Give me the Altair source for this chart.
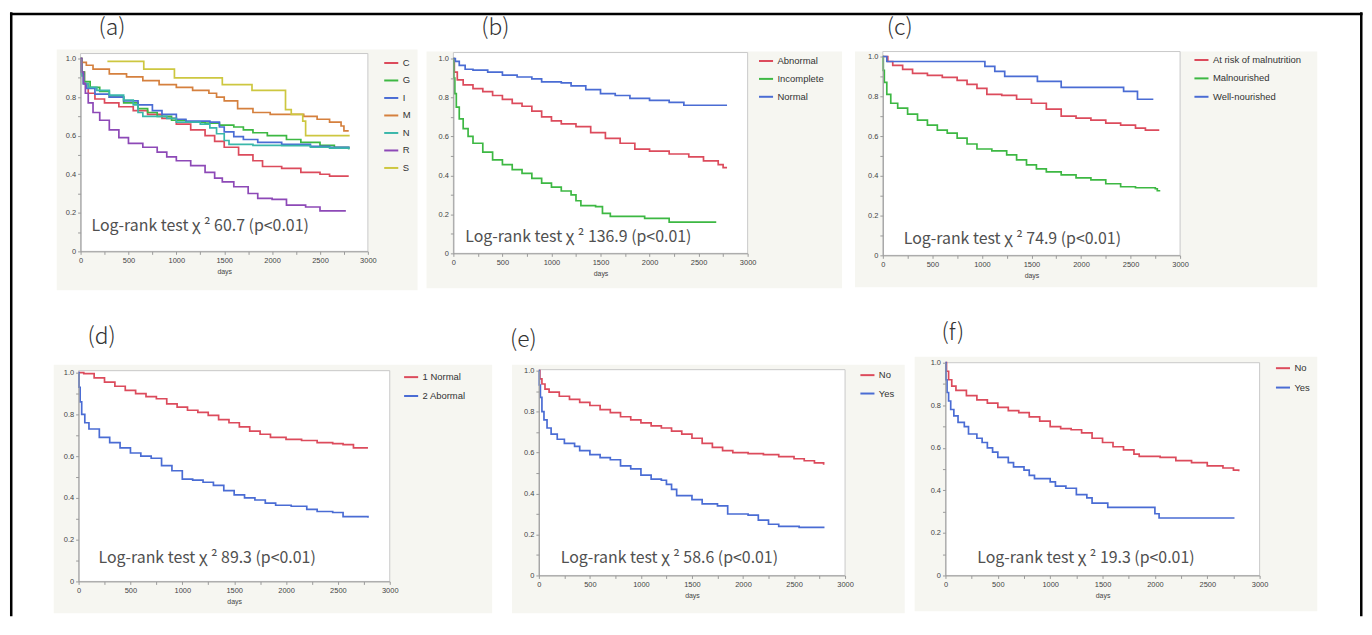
import altair as alt
import pandas as pd

# ---------------- data ----------------
# panel (a)
A_NAMES = ["C", "G", "I", "M", "N", "R", "S"]
A_C_DAY = [0, 15, 40, 80, 150, 250, 400, 550, 700, 850, 1000, 1150, 1300, 1400, 1500, 1650, 1800, 1900, 2100, 2300, 2500, 2600, 2800]
A_C_SURV = [1.0, 0.93, 0.87, 0.82, 0.79, 0.77, 0.75, 0.73, 0.71, 0.69, 0.66, 0.63, 0.60, 0.57, 0.54, 0.50, 0.47, 0.44, 0.43, 0.41, 0.40, 0.39, 0.39]
A_G_DAY = [0, 10, 40, 100, 200, 300, 450, 600, 700, 800, 950, 1100, 1300, 1450, 1600, 1700, 1800, 1950, 2150, 2300, 2500, 2650, 2800]
A_G_SURV = [1.0, 0.93, 0.88, 0.85, 0.83, 0.80, 0.77, 0.74, 0.72, 0.70, 0.68, 0.67, 0.665, 0.655, 0.645, 0.63, 0.615, 0.60, 0.58, 0.565, 0.55, 0.54, 0.53]
A_I_DAY = [0, 10, 30, 60, 150, 300, 450, 600, 750, 850, 1000, 1100, 1350, 1450, 1500, 1600, 1700, 1850, 2100, 2400, 2600, 2800]
A_I_SURV = [1.0, 0.92, 0.87, 0.845, 0.815, 0.80, 0.78, 0.76, 0.73, 0.71, 0.685, 0.675, 0.67, 0.645, 0.62, 0.595, 0.58, 0.565, 0.555, 0.545, 0.54, 0.535]
A_M_DAY = [0, 10, 60, 130, 300, 480, 650, 820, 1000, 1170, 1340, 1420, 1500, 1640, 1800, 1980, 2330, 2470, 2600, 2720, 2750, 2800]
A_M_SURV = [1.0, 0.98, 0.965, 0.945, 0.92, 0.905, 0.885, 0.865, 0.85, 0.835, 0.82, 0.80, 0.78, 0.74, 0.72, 0.71, 0.70, 0.685, 0.67, 0.65, 0.625, 0.625]
A_N_DAY = [0, 10, 30, 80, 170, 300, 450, 550, 600, 650, 900, 1000, 1250, 1350, 1420, 1500, 1550, 1800, 2100, 2400, 2600, 2800]
A_N_SURV = [1.0, 0.91, 0.87, 0.85, 0.835, 0.81, 0.785, 0.76, 0.72, 0.70, 0.69, 0.67, 0.66, 0.64, 0.61, 0.575, 0.555, 0.55, 0.548, 0.54, 0.535, 0.53]
A_R_DAY = [0, 10, 30, 50, 80, 130, 200, 300, 400, 500, 650, 800, 900, 1000, 1150, 1300, 1400, 1480, 1600, 1750, 1850, 2000, 2150, 2350, 2500, 2770]
A_R_SURV = [1.0, 0.93, 0.87, 0.82, 0.77, 0.72, 0.68, 0.63, 0.59, 0.56, 0.54, 0.515, 0.49, 0.47, 0.445, 0.41, 0.38, 0.36, 0.335, 0.30, 0.275, 0.27, 0.24, 0.23, 0.21, 0.21]
A_S_DAY = [280, 660, 980, 1480, 1790, 2140, 2200, 2320, 2350, 2810]
A_S_SURV = [0.985, 0.945, 0.90, 0.865, 0.835, 0.735, 0.71, 0.675, 0.60, 0.60]

# panel (b)
B_NAMES = ["Abnormal", "Incomplete", "Normal"]
B_ABN_DAY = [0, 10, 40, 100, 200, 300, 400, 500, 600, 700, 800, 900, 1000, 1100, 1250, 1400, 1550, 1700, 1850, 2000, 2200, 2400, 2550, 2700, 2750, 2790]
B_ABN_SURV = [1.0, 0.93, 0.89, 0.865, 0.845, 0.83, 0.81, 0.79, 0.77, 0.755, 0.73, 0.70, 0.68, 0.665, 0.65, 0.62, 0.59, 0.565, 0.535, 0.525, 0.51, 0.495, 0.475, 0.455, 0.44, 0.44]
B_INC_DAY = [0, 5, 15, 30, 60, 100, 150, 200, 300, 400, 500, 600, 700, 800, 900, 1000, 1100, 1200, 1250, 1300, 1450, 1520, 1600, 1950, 2200, 2680]
B_INC_SURV = [1.0, 0.90, 0.82, 0.75, 0.69, 0.64, 0.60, 0.565, 0.52, 0.48, 0.455, 0.43, 0.41, 0.385, 0.36, 0.34, 0.32, 0.30, 0.27, 0.245, 0.24, 0.205, 0.19, 0.18, 0.16, 0.16]
B_NOR_DAY = [0, 20, 60, 120, 200, 350, 500, 650, 800, 900, 1100, 1200, 1350, 1500, 1650, 1800, 2000, 2200, 2350, 2790]
B_NOR_SURV = [1.0, 0.985, 0.965, 0.945, 0.94, 0.93, 0.915, 0.905, 0.895, 0.88, 0.875, 0.86, 0.84, 0.82, 0.81, 0.795, 0.785, 0.775, 0.76, 0.76]

# panel (c)
C_NAMES = ["At risk of malnutrition", "Malnourished", "Well-nourished"]
C_RISK_DAY = [0, 50, 100, 200, 300, 450, 600, 750, 850, 950, 1050, 1200, 1350, 1500, 1650, 1800, 1950, 2100, 2250, 2400, 2550, 2650, 2790]
C_RISK_SURV = [1.0, 0.975, 0.955, 0.935, 0.915, 0.905, 0.895, 0.88, 0.86, 0.84, 0.81, 0.805, 0.785, 0.765, 0.735, 0.70, 0.69, 0.68, 0.665, 0.655, 0.64, 0.63, 0.63]
C_MAL_DAY = [0, 5, 15, 40, 80, 150, 250, 350, 450, 550, 650, 750, 850, 950, 1100, 1250, 1350, 1450, 1550, 1650, 1800, 1950, 2100, 2250, 2400, 2550, 2750, 2770, 2800]
C_MAL_SURV = [1.0, 0.93, 0.87, 0.81, 0.765, 0.74, 0.71, 0.68, 0.655, 0.63, 0.615, 0.59, 0.56, 0.535, 0.525, 0.505, 0.48, 0.455, 0.435, 0.42, 0.405, 0.39, 0.38, 0.36, 0.345, 0.34, 0.335, 0.325, 0.325]
C_WELL_DAY = [0, 40, 1030, 1130, 1230, 1560, 1800, 2430, 2570, 2730]
C_WELL_SURV = [1.0, 0.975, 0.95, 0.925, 0.90, 0.875, 0.845, 0.825, 0.785, 0.785]

# panel (d)
D_NAMES = ["1 Normal", "2 Abormal"]
D_NOR_DAY = [0, 50, 150, 250, 350, 450, 550, 650, 750, 850, 950, 1050, 1150, 1250, 1350, 1450, 1550, 1650, 1750, 1850, 2000, 2150, 2300, 2450, 2550, 2650, 2790]
D_NOR_SURV = [1.0, 0.995, 0.975, 0.955, 0.935, 0.915, 0.90, 0.885, 0.875, 0.85, 0.835, 0.82, 0.81, 0.795, 0.775, 0.76, 0.74, 0.72, 0.705, 0.69, 0.68, 0.675, 0.665, 0.66, 0.655, 0.64, 0.64]
D_ABN_DAY = [0, 5, 15, 30, 60, 100, 200, 300, 400, 500, 600, 700, 800, 900, 1000, 1100, 1200, 1300, 1400, 1500, 1600, 1700, 1800, 1900, 2050, 2200, 2300, 2450, 2550, 2790]
D_ABN_SURV = [1.0, 0.93, 0.86, 0.80, 0.76, 0.73, 0.69, 0.665, 0.64, 0.615, 0.60, 0.59, 0.555, 0.53, 0.49, 0.485, 0.475, 0.46, 0.435, 0.415, 0.40, 0.39, 0.375, 0.365, 0.36, 0.345, 0.335, 0.33, 0.31, 0.305]

# panel (e)
E_NAMES = ["No", "Yes"]
E_NO_DAY = [0, 10, 30, 60, 100, 200, 300, 400, 500, 600, 700, 800, 900, 1000, 1100, 1200, 1300, 1400, 1500, 1600, 1700, 1800, 1900, 2050, 2200, 2350, 2500, 2600, 2700, 2790]
E_NO_SURV = [1.0, 0.96, 0.935, 0.91, 0.895, 0.875, 0.86, 0.845, 0.83, 0.81, 0.795, 0.775, 0.76, 0.745, 0.73, 0.72, 0.705, 0.69, 0.67, 0.645, 0.625, 0.61, 0.60, 0.595, 0.59, 0.58, 0.57, 0.56, 0.55, 0.54]
E_YES_DAY = [0, 5, 15, 30, 50, 80, 120, 180, 250, 350, 400, 500, 600, 700, 800, 900, 1000, 1100, 1200, 1250, 1300, 1350, 1500, 1600, 1750, 1850, 2050, 2150, 2250, 2350, 2550, 2790]
E_YES_SURV = [1.0, 0.93, 0.87, 0.80, 0.76, 0.72, 0.69, 0.665, 0.645, 0.63, 0.61, 0.59, 0.575, 0.565, 0.535, 0.52, 0.49, 0.47, 0.465, 0.445, 0.42, 0.39, 0.37, 0.35, 0.34, 0.30, 0.295, 0.27, 0.25, 0.24, 0.235, 0.23]

# panel (f)
F_NAMES = ["No", "Yes"]
F_NO_DAY = [0, 10, 30, 60, 100, 200, 300, 400, 500, 600, 700, 800, 900, 1000, 1100, 1200, 1300, 1400, 1500, 1600, 1700, 1800, 1850, 2050, 2200, 2350, 2500, 2650, 2750, 2800]
F_NO_SURV = [1.0, 0.96, 0.92, 0.89, 0.87, 0.845, 0.825, 0.81, 0.79, 0.775, 0.765, 0.745, 0.725, 0.70, 0.69, 0.685, 0.67, 0.645, 0.625, 0.605, 0.59, 0.57, 0.56, 0.555, 0.54, 0.53, 0.515, 0.505, 0.495, 0.49]
F_YES_DAY = [0, 5, 15, 30, 50, 80, 120, 180, 220, 300, 350, 400, 450, 500, 600, 650, 750, 800, 850, 1000, 1050, 1150, 1250, 1350, 1400, 1550, 1970, 2000, 2040, 2760]
F_YES_SURV = [1.0, 0.92, 0.86, 0.82, 0.78, 0.75, 0.72, 0.70, 0.665, 0.645, 0.625, 0.60, 0.58, 0.555, 0.53, 0.51, 0.495, 0.47, 0.455, 0.44, 0.42, 0.41, 0.38, 0.365, 0.34, 0.32, 0.32, 0.29, 0.27, 0.27]

ANNOTS = ["Log-rank test  χ ² 60.7 (p<0.01)", "Log-rank test  χ ² 136.9 (p<0.01)",
          "Log-rank test  χ ² 74.9 (p<0.01)", "Log-rank test  χ ² 89.3 (p<0.01)",
          "Log-rank test  χ ² 58.6 (p<0.01)", "Log-rank test  χ ² 19.3 (p<0.01)"]
LABELS = ["(a)", "(b)", "(c)", "(d)", "(e)", "(f)"]
X_TICKS = list(range(0, 3001, 250))
Y_TICKS = [round(i * 0.1, 1) for i in range(11)]

# ---------------- styling ----------------
RED, GREEN, BLUE = "#dc4b5c", "#3db843", "#4a6cd4"
ORANGE, TEAL, PURPLE, YELLOW = "#d5803e", "#3ab7aa", "#8d49b7", "#cdc740"
PANEL_BG = "#f6f6f1"
FRAME = "#c9c9c9"
AXIS_C = "#9a9a9a"
TXT = "#444444"

COLW, ROWH, ORIGIN = 425, 300, 8
one = pd.DataFrame({"k": [0]})


def series_df(names, days_list, surv_list):
    rows = []
    for n, ds, ss in zip(names, days_list, surv_list):
        for d, s in zip(ds, ss):
            rows.append({"group": n, "day": d, "surv": s})
    return pd.DataFrame(rows)


def vrect(x1, x2, y1, y2, **kw):
    return alt.Chart(one).mark_rect(**kw).encode(
        x=alt.value(x1), x2=alt.value(x2), y=alt.value(y1), y2=alt.value(y2))


def panel(col, row, df, names, colors, L, R, Y1, Y0, FT, gray, lab, lab_xy,
          leg_xy, rowpad, annot, annot_xy, border=False):
    cx = ORIGIN + col * COLW
    cy = ORIGIN + row * ROWH
    layers = []
    layers.append(vrect(gray[0] - cx, gray[2] - cx, gray[1] - cy, gray[3] - cy, color=PANEL_BG))
    layers.append(vrect(L - cx, R - cx, FT - cy, Y0 - cy, fill="white", stroke=FRAME, strokeWidth=1))
    lines = alt.Chart(df).mark_line(interpolate="step-after", strokeWidth=1.7).encode(
        x=alt.X("day:Q",
                scale=alt.Scale(domain=[0, 3000], range=[L - cx, R - cx], nice=False, zero=False),
                axis=alt.Axis(values=X_TICKS, format="d",
                              labelExpr="datum.value % 500 == 0 ? datum.label : ''",
                              title="days", titleFontSize=7, titleFont="Liberation Sans",
                              titleFontWeight="normal", titleColor=TXT, titlePadding=4,
                              labelFontSize=7.5, labelFont="Liberation Sans", labelColor=TXT,
                              labelPadding=2, tickSize=3, tickColor=AXIS_C, domainColor=AXIS_C,
                              labelFlush=False, labelOverlap=False, grid=False,
                              offset=(Y0 - cy) - ROWH, zindex=1)),
        y=alt.Y("surv:Q",
                scale=alt.Scale(domain=[0, 1], range=[Y0 - cy, Y1 - cy], nice=False, zero=False),
                axis=alt.Axis(values=Y_TICKS,
                              labelExpr="datum.value < 0.05 ? '0' : (round(datum.value*10) % 2 == 0 ? format(datum.value, '.1f') : '')",
                              title=None, labelFontSize=7.5, labelFont="Liberation Sans",
                              labelColor=TXT, labelPadding=2, tickSize=3, tickColor=AXIS_C,
                              domainColor=AXIS_C, labelFlush=False, labelOverlap=False,
                              grid=False, offset=-(L - cx), zindex=1)),
        color=alt.Color("group:N",
                        scale=alt.Scale(domain=names, range=colors),
                        legend=alt.Legend(orient="none", legendX=leg_xy[0] - cx,
                                          legendY=leg_xy[1] - cy - 7, title=None,
                                          symbolType="stroke", symbolSize=200,
                                          symbolStrokeWidth=2, labelFontSize=9.5,
                                          labelFont="Liberation Sans", labelColor="#333333",
                                          rowPadding=rowpad, labelOffset=3, padding=0,
                                          zindex=1)),
    )
    layers.append(lines)
    layers.append(alt.Chart(one).mark_text(text=annot, align="left", baseline="middle",
                                           fontSize=16, font="Noto Sans CJK JP",
                                           color="#505050").encode(
        x=alt.value(annot_xy[0] - cx), y=alt.value(annot_xy[1] - cy)))
    layers.append(alt.Chart(one).mark_text(text=lab, align="left", baseline="middle",
                                           fontSize=23, font="Noto Sans CJK JP",
                                           fontWeight=300, color="#333333").encode(
        x=alt.value(lab_xy[0] - cx), y=alt.value(lab_xy[1] - cy)))
    if border:
        b = dict(color="black", strokeWidth=2.5)
        layers.append(alt.Chart(one).mark_rule(**b).encode(
            x=alt.value(9.25 - cx), y=alt.value(10.5 - cy), y2=alt.value(618 - cy)))
        layers.append(alt.Chart(one).mark_rule(**b).encode(
            x=alt.value(8 - cx), x2=alt.value(1368.5 - cx), y=alt.value(12.25 - cy)))
        layers.append(alt.Chart(one).mark_rule(**b).encode(
            x=alt.value(1367.25 - cx), y=alt.value(10.5 - cy), y2=alt.value(618 - cy)))
    return alt.layer(*layers).properties(width=COLW, height=ROWH)


dfa = series_df(A_NAMES, [A_C_DAY, A_G_DAY, A_I_DAY, A_M_DAY, A_N_DAY, A_R_DAY, A_S_DAY],
                [A_C_SURV, A_G_SURV, A_I_SURV, A_M_SURV, A_N_SURV, A_R_SURV, A_S_SURV])
dfb = series_df(B_NAMES, [B_ABN_DAY, B_INC_DAY, B_NOR_DAY], [B_ABN_SURV, B_INC_SURV, B_NOR_SURV])
dfc = series_df(C_NAMES, [C_RISK_DAY, C_MAL_DAY, C_WELL_DAY], [C_RISK_SURV, C_MAL_SURV, C_WELL_SURV])
dfd = series_df(D_NAMES, [D_NOR_DAY, D_ABN_DAY], [D_NOR_SURV, D_ABN_SURV])
dfe = series_df(E_NAMES, [E_NO_DAY, E_YES_DAY], [E_NO_SURV, E_YES_SURV])
dff = series_df(F_NAMES, [F_NO_DAY, F_YES_DAY], [F_NO_SURV, F_YES_SURV])

pa = panel(0, 0, dfa, A_NAMES, [RED, GREEN, BLUE, ORANGE, TEAL, PURPLE, YELLOW],
           79, 368, 57, 251, 52, (55, 48, 418, 290), LABELS[0], (97, 26),
           (383, 60), 4.6, ANNOTS[0], (90, 226), border=True)
pb = panel(1, 0, dfb, B_NAMES, [RED, GREEN, BLUE],
           454, 750, 57, 253, 51, (427, 50, 845, 288), LABELS[1], (482, 26),
           (760, 58), 5, ANNOTS[1], (466, 237))
pc = panel(2, 0, dfc, C_NAMES, [RED, GREEN, BLUE],
           886, 1185, 55, 255, 50, (858, 50, 1323, 287), LABELS[2], (890, 26),
           (1198, 57), 5.5, ANNOTS[2], (907, 239))
pd_ = panel(0, 1, dfd, D_NAMES, [RED, BLUE],
            77, 390, 373, 583, 371, (52, 365, 493, 615), LABELS[3], (86, 337),
            (403, 376), 6, ANNOTS[3], (97, 559))
pe = panel(1, 1, dfe, E_NAMES, [RED, BLUE],
           540, 848, 371, 577, 370, (513, 365, 908, 615), LABELS[4], (511, 340),
           (862, 374), 5.5, ANNOTS[4], (562, 559))
pf = panel(2, 1, dff, F_NAMES, [RED, BLUE],
           949, 1265, 363, 577, 363, (918, 357, 1323, 613), LABELS[5], (945, 333),
           (1280, 367), 6.5, ANNOTS[5], (981, 559))

chart = alt.concat(pa, pb, pc, pd_, pe, pf, columns=3, spacing=0, bounds="flush").resolve_scale(
    color="independent", x="independent", y="independent"
).resolve_legend(color="independent").properties(
    padding=0, background="white"
).configure_view(stroke=None)

chart.save("out.html", embed_options={"renderer": "svg", "actions": False})
